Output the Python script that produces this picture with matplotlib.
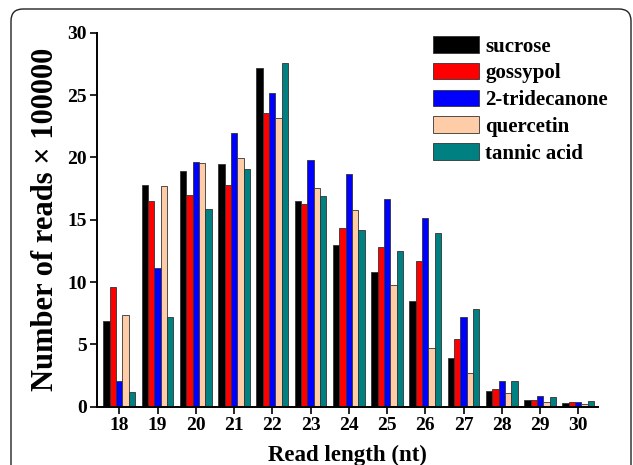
import numpy as np
import matplotlib
matplotlib.use("Agg")
import matplotlib.pyplot as plt
from matplotlib.patches import FancyBboxPatch
from matplotlib.transforms import Affine2D

plt.rcParams["font.family"] = ["Liberation Serif", "DejaVu Serif"]
plt.rcParams["font.weight"] = "bold"

# read lengths (nt)
lengths = [18, 19, 20, 21, 22, 23, 24, 25, 26, 27, 28, 29, 30]

# number of reads x 100000
sucrose = [6.9, 17.75, 18.93, 19.43, 27.13, 16.5, 12.97, 10.77, 8.45, 3.93, 1.23, 0.53, 0.27]
gossypol = [9.57, 16.5, 16.97, 17.75, 23.52, 16.25, 14.3, 12.8, 11.71, 5.43, 1.42, 0.56, 0.35]
tridecanone = [2.06, 11.1, 19.6, 21.97, 25.18, 19.78, 18.63, 16.65, 15.1, 7.22, 2.09, 0.88, 0.4]
quercetin = [7.33, 17.73, 19.57, 19.97, 23.12, 17.56, 15.74, 9.78, 4.68, 2.67, 1.1, 0.37, 0.21]
tannic_acid = [1.15, 7.2, 15.85, 19.03, 27.6, 16.87, 14.14, 12.51, 13.93, 7.83, 2.09, 0.75, 0.45]

series = [
    ("sucrose", sucrose, "#000000"),
    ("gossypol", gossypol, "#ff0000"),
    ("2-tridecanone", tridecanone, "#0000ff"),
    ("quercetin", quercetin, "#ffcca8"),
    ("tannic acid", tannic_acid, "#008080"),
]

fig = plt.figure(figsize=(6.33, 4.65), dpi=100)

# rounded frame around the figure (pixel coords)
px = Affine2D().scale(1 / 633, 1 / 465) + fig.transFigure
frame = FancyBboxPatch((11, -40), 620, 465 - 9 + 40,
                       boxstyle="round,pad=0,rounding_size=12",
                       transform=px, facecolor="none", edgecolor="#222222",
                       linewidth=1.0)
fig.patches.append(frame)

ax = fig.add_axes([0.1537, 0.1254, 0.7910, 0.8043])

x = np.array(lengths, dtype=float)
width = 0.166
for i, (name, vals, col) in enumerate(series):
    offs = (i - 2) * width
    ax.bar(x + offs, vals, width, color=col, edgecolor="#333333",
           linewidth=0.6, label=name)

ax.set_xlim(17.425, 30.515)
ax.set_ylim(0, 30)
ax.set_xticks(lengths)
ax.set_yticks([0, 5, 10, 15, 20, 25, 30])

for s in ["top", "right"]:
    ax.spines[s].set_visible(False)
for s in ["left", "bottom"]:
    ax.spines[s].set_linewidth(1.4)

ax.tick_params(axis="both", direction="out", length=5, width=1.2,
               labelsize=14, pad=2.5)

ax.set_xlabel("Read length (nt)", fontsize=16.5, fontweight="bold", labelpad=7.5)
ax.set_ylabel("Number of reads \u00d7 100000", fontsize=22,
              fontweight="bold", labelpad=5)

ax.legend(loc="upper left", bbox_to_anchor=(433 / 633, 1 - 36 / 465),
          bbox_transform=fig.transFigure, frameon=False, borderpad=0,
          borderaxespad=0, handlelength=2.2, handleheight=0.85,
          handletextpad=0.3, labelspacing=0.3,
          prop={"weight": "bold", "size": 15})

fig.savefig("out.png", dpi=100)
